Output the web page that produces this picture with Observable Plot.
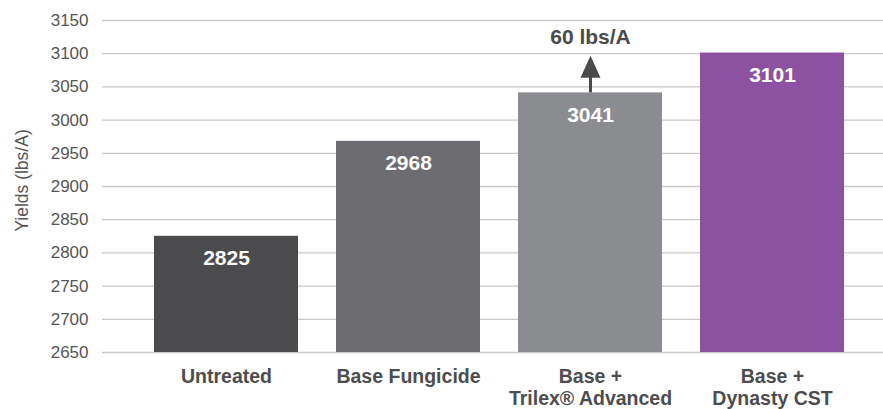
<!DOCTYPE html>
<html>
<head>
<meta charset="utf-8">
<script src="https://cdn.jsdelivr.net/npm/d3@7"></script>
<script src="https://cdn.jsdelivr.net/npm/@observablehq/plot@0.6"></script>
<style>
  html, body { margin: 0; padding: 0; background: #fff; }
  #chart svg { display: block; }
</style>
</head>
<body>
<div id="chart"></div>
<script>
// ---- data ----
const categories = ["Untreated", "Base Fungicide", "Base +\nTrilex® Advanced", "Base +\nDynasty CST"];
const yields = [2825, 2968, 3041, 3101];
const barColors = ["#4b4b4d", "#6c6c70", "#8b8c90", "#8c52a1"];
const yTicks = [2650, 2700, 2750, 2800, 2850, 2900, 2950, 3000, 3050, 3100, 3150];
const yAxisTitle = "Yields (lbs/A)";
const annotationCategory = "Base +\nTrilex® Advanced";
const annotationText = "60 lbs/A";
const arrowFrom = 3041;
const arrowShaftTo = 3070;
const arrowTip = 3097;
const annotationLabelY = 3124;

const bars = categories.map((c, i) => ({category: c, value: yields[i], color: barColors[i]}));
const annotation = [{category: annotationCategory, text: annotationText, from: arrowFrom, shaftTo: arrowShaftTo, tip: arrowTip, labelY: annotationLabelY}];

const font = "'Liberation Sans', Arial, Helvetica, sans-serif";

// filled arrow head: tip at the anchor point, base below it
const arrowHead = {
  draw(context) {
    context.moveTo(0, 0);
    context.lineTo(10, 22);
    context.lineTo(-10, 22);
    context.closePath();
  }
};

const chart = Plot.plot({
  width: 883,
  height: 409,
  marginLeft: 102,
  marginRight: 0,
  marginTop: 20,
  marginBottom: 57,
  style: {fontFamily: font, background: "#fff"},
  x: {type: "band", domain: categories, range: [153, 844], paddingInner: 0.21, paddingOuter: 0},
  y: {domain: [2650, 3150]},
  marks: [
    Plot.ruleY(yTicks, {stroke: "#c9c9c9", strokeWidth: 1.3}),
    Plot.barY(bars, {x: "category", y1: 2650, y2: "value", fill: "color"}),
    Plot.text(bars, {x: "category", y: "value", text: d => String(d.value), dy: 22, lineAnchor: "middle",
      fill: "#fff", fontWeight: "bold", fontSize: 21}),
    Plot.ruleX(annotation, {x: "category", y1: "from", y2: "shaftTo", stroke: "#4a4a4c", strokeWidth: 3}),
    Plot.dot(annotation, {x: "category", y: "tip", symbol: arrowHead, fill: "#4a4a4c", stroke: "none", r: 10}),
    Plot.text(annotation, {x: "category", y: "labelY", text: "text", lineAnchor: "middle",
      fill: "#4a4a4c", fontWeight: "bold", fontSize: 21}),
    Plot.axisY({ticks: yTicks, tickSize: 0, tickPadding: 14, label: null,
      fontSize: 17, fill: "#555", tickFormat: d => String(d)}),
    Plot.axisX({tickSize: 0, tickPadding: 15.5, label: null, fontSize: 19.5, fontWeight: "bold",
      fill: "#4d4d4f", lineHeight: 1.1}),
    Plot.text([yAxisTitle], {frameAnchor: "left", text: d => d, rotate: -90, dx: -80, dy: -6,
      textAnchor: "middle", lineAnchor: "middle", fontSize: 17.5, fill: "#555"})
  ]
});
document.getElementById("chart").appendChild(chart);
</script>
</body>
</html>
